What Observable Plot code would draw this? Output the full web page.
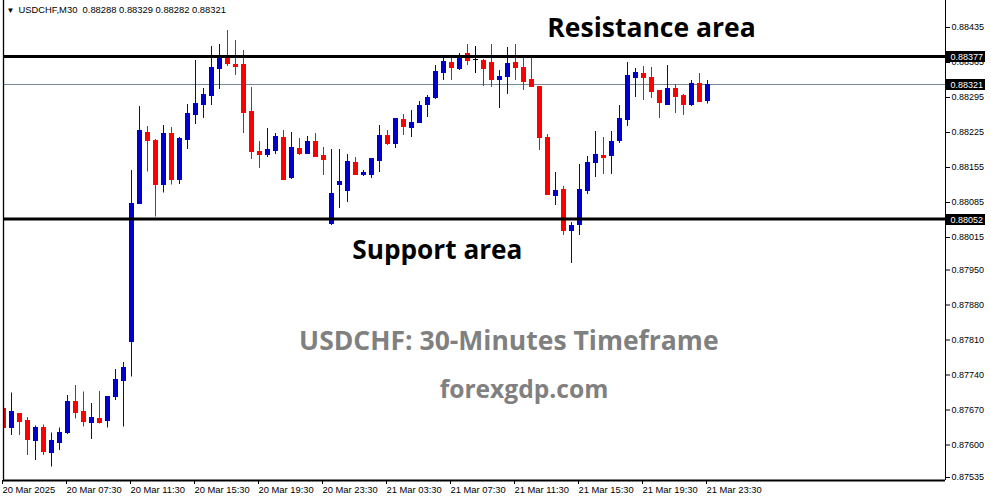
<!DOCTYPE html>
<html>
<head>
<meta charset="utf-8">
<script src="https://cdn.jsdelivr.net/npm/d3@7"></script>
<script src="https://cdn.jsdelivr.net/npm/@observablehq/plot@0.6"></script>
<style>
  html, body { margin: 0; padding: 0; background: #fff; }
  #chart { width: 991px; height: 501px; }
</style>
</head>
<body>
<div id="chart"></div>
<script>
// ---------- data ----------
const symbol = "USDCHF";
const timeframe = "M30";
const firstBar = "2025-03-20T03:30:00Z";
const barMinutes = 30;

const opens = [
  0.87672, 0.87634, 0.87662, 0.87649, 0.87609, 0.87634, 0.87584, 0.87604, 0.87624, 0.87687,
  0.87667, 0.87644, 0.87653, 0.87648, 0.87696, 0.87729, 0.87806, 0.88082, 0.88225, 0.88209,
  0.88121, 0.88223, 0.88131, 0.88211, 0.88261, 0.88281, 0.88299, 0.88353, 0.88377, 0.88361,
  0.88361, 0.88267, 0.88187, 0.88181, 0.88189, 0.88215, 0.88135, 0.88193, 0.88183, 0.88207,
  0.88179, 0.88043, 0.88121, 0.88109, 0.88165, 0.88141, 0.88141, 0.88169, 0.88219, 0.88203,
  0.88251, 0.88235, 0.88245, 0.88281, 0.88295, 0.88344, 0.88365, 0.88353, 0.88383, 0.88370,
  0.88369, 0.88365, 0.88331, 0.88337, 0.88365, 0.88355, 0.88331, 0.88317, 0.88215, 0.88099,
  0.88111, 0.88029, 0.88041, 0.88109, 0.88165, 0.88179, 0.88179, 0.88209, 0.88251, 0.88335,
  0.88343, 0.88335, 0.88309, 0.88281, 0.88313, 0.88299, 0.88281, 0.88323, 0.88288
];
const highs = [
  0.87679, 0.87704, 0.87662, 0.87655, 0.87638, 0.87640, 0.87624, 0.87634, 0.87699, 0.87719,
  0.87706, 0.87683, 0.87707, 0.87697, 0.87751, 0.87765, 0.88149, 0.88277, 0.88237, 0.88211,
  0.88239, 0.88235, 0.88215, 0.88281, 0.88369, 0.88313, 0.88397, 0.88401, 0.88429, 0.88409,
  0.88389, 0.88315, 0.88207, 0.88233, 0.88223, 0.88229, 0.88225, 0.88213, 0.88217, 0.88223,
  0.88195, 0.88191, 0.88191, 0.88181, 0.88175, 0.88149, 0.88173, 0.88239, 0.88229, 0.88253,
  0.88261, 0.88269, 0.88287, 0.88299, 0.88359, 0.88377, 0.88377, 0.88383, 0.88401, 0.88397,
  0.88371, 0.88401, 0.88349, 0.88395, 0.88401, 0.88373, 0.88377, 0.88317, 0.88221, 0.88145,
  0.88117, 0.88045, 0.88161, 0.88177, 0.88227, 0.88215, 0.88227, 0.88279, 0.88365, 0.88353,
  0.88357, 0.88355, 0.88309, 0.88359, 0.88321, 0.88301, 0.88329, 0.88343, 0.88329
];
const lows = [
  0.87610, 0.87619, 0.87619, 0.87579, 0.87569, 0.87579, 0.87556, 0.87589, 0.87621, 0.87652,
  0.87636, 0.87611, 0.87642, 0.87634, 0.87689, 0.87636, 0.87736, 0.88082, 0.88146, 0.88056,
  0.88104, 0.88120, 0.88121, 0.88191, 0.88241, 0.88253, 0.88279, 0.88311, 0.88357, 0.88339,
  0.88223, 0.88171, 0.88153, 0.88175, 0.88181, 0.88131, 0.88131, 0.88179, 0.88183, 0.88177,
  0.88139, 0.88039, 0.88073, 0.88085, 0.88141, 0.88137, 0.88133, 0.88145, 0.88199, 0.88193,
  0.88219, 0.88215, 0.88245, 0.88255, 0.88291, 0.88329, 0.88329, 0.88349, 0.88359, 0.88343,
  0.88317, 0.88315, 0.88273, 0.88301, 0.88329, 0.88309, 0.88317, 0.88189, 0.88101, 0.88079,
  0.88019, 0.87963, 0.88019, 0.88101, 0.88135, 0.88141, 0.88141, 0.88203, 0.88237, 0.88295,
  0.88289, 0.88293, 0.88253, 0.88281, 0.88263, 0.88259, 0.88277, 0.88287, 0.88282
];
const closes = [
  0.87634, 0.87667, 0.87646, 0.87611, 0.87634, 0.87586, 0.87608, 0.87625, 0.87687, 0.87664,
  0.87646, 0.87655, 0.87644, 0.87697, 0.87731, 0.87755, 0.88082, 0.88229, 0.88208, 0.88121,
  0.88223, 0.88131, 0.88213, 0.88263, 0.88283, 0.88301, 0.88355, 0.88377, 0.88363, 0.88357,
  0.88265, 0.88187, 0.88181, 0.88191, 0.88217, 0.88131, 0.88195, 0.88183, 0.88207, 0.88177,
  0.88171, 0.88103, 0.88127, 0.88167, 0.88141, 0.88145, 0.88173, 0.88219, 0.88203, 0.88253,
  0.88237, 0.88245, 0.88279, 0.88295, 0.88347, 0.88367, 0.88355, 0.88377, 0.88369, 0.88370,
  0.88353, 0.88331, 0.88337, 0.88363, 0.88355, 0.88327, 0.88317, 0.88215, 0.88101, 0.88109,
  0.88029, 0.88039, 0.88111, 0.88165, 0.88181, 0.88175, 0.88207, 0.88253, 0.88339, 0.88345,
  0.88335, 0.88307, 0.88285, 0.88313, 0.88297, 0.88281, 0.88323, 0.88287, 0.88321
];

const tickTimes = [
  "2025-03-20T03:30:00Z", "2025-03-20T07:30:00Z", "2025-03-20T11:30:00Z", "2025-03-20T15:30:00Z",
  "2025-03-20T19:30:00Z", "2025-03-20T23:30:00Z", "2025-03-21T03:30:00Z", "2025-03-21T07:30:00Z",
  "2025-03-21T11:30:00Z", "2025-03-21T15:30:00Z", "2025-03-21T19:30:00Z", "2025-03-21T23:30:00Z"
];
const tickLabels = [
  "20 Mar 2025", "20 Mar 07:30", "20 Mar 11:30", "20 Mar 15:30",
  "20 Mar 19:30", "20 Mar 23:30", "21 Mar 03:30", "21 Mar 07:30",
  "21 Mar 11:30", "21 Mar 15:30", "21 Mar 19:30", "21 Mar 23:30"
];
const priceTicks = [
  0.88435, 0.88365, 0.88295, 0.88225, 0.88155, 0.88085, 0.88015,
  0.87950, 0.87880, 0.87810, 0.87740, 0.87670, 0.87600, 0.87535
];
const priceRange = [0.87529, 0.88489];
const timeRangeEnd = "2025-03-22T14:22:30Z";

const resistance = 0.88377;
const support = 0.88052;

const annotationLabels = ["Resistance area", "Support area", "USDCHF: 30-Minutes Timeframe", "forexgdp.com"];
const annotationTimes = ["2025-03-21T20:00:00Z", "2025-03-21T06:37:00Z", "2025-03-21T11:05:00Z", "2025-03-21T12:02:00Z"];
const annotationPrices = [0.88433, 0.87989, 0.87807, 0.87709];
const annotationColors = ["#000000", "#000000", "#808080", "#808080"];
const annotationSizes = [26.5, 26.2, 26.5, 24.6];

// ---------- build ----------
const t0 = new Date(firstBar).getTime();
const barMs = barMinutes * 60 * 1000;
const halfBody = barMs * (2.5 / 8);
const candles = opens.map((o, i) => ({
  time: new Date(t0 + i * barMs),
  open: o, high: highs[i], low: lows[i], close: closes[i]
}));
const candleColor = d => d.close > d.open ? "#0000cd" : d.close < d.open ? "#ff0000" : "#000000";
const last = candles[candles.length - 1];
const fmt = v => v.toFixed(5);
const titleText = `${symbol},${timeframe}\u00a0\u00a0${fmt(last.open)} ${fmt(last.high)} ${fmt(last.low)} ${fmt(last.close)}`;

const xDomain = [new Date(t0), new Date(timeRangeEnd)];
const annotations = annotationLabels.map((label, i) => ({
  label, time: new Date(annotationTimes[i]), price: annotationPrices[i],
  color: annotationColors[i], size: annotationSizes[i]
}));

const plot = Plot.plot({
  width: 991,
  height: 501,
  marginLeft: 3,
  marginRight: 46,
  marginTop: 0,
  marginBottom: 21,
  style: { fontFamily: "'Liberation Sans', Arial, sans-serif", fontSize: "9px", color: "#000", background: "#fff", overflow: "visible" },
  x: { type: "utc", domain: xDomain },
  y: { domain: priceRange },
  marks: [
    Plot.ruleY([last.close], { stroke: "#778899", strokeWidth: 1 }),
    Plot.ruleX(candles, { x: "time", y1: "low", y2: "high", stroke: candleColor, strokeWidth: 1, clip: true }),
    Plot.rect(candles, {
      x1: d => new Date(d.time.getTime() - halfBody),
      x2: d => new Date(d.time.getTime() + halfBody),
      y1: "open", y2: "close",
      fill: candleColor,
      insetTop: -0.5, insetBottom: -0.5,
      shapeRendering: "crispEdges",
      clip: true
    }),
    Plot.ruleY([resistance, support], { stroke: "#000", strokeWidth: 3 }),
    Plot.ruleX([xDomain[0]], { stroke: "#000", strokeWidth: 1.3 }),
    Plot.ruleX([xDomain[1]], { stroke: "#000", strokeWidth: 1 }),
    Plot.ruleY([priceRange[0]], { stroke: "#000", strokeWidth: 2 }),
    Plot.axisX({
      ticks: tickTimes.map(t => new Date(t)),
      tickFormat: (d, i) => tickLabels[i],
      textAnchor: "start",
      tickSize: 4,
      tickPadding: 2,
      dx: -1,
      fontSize: 9.4,
      fill: "#000",
      stroke: "#000"
    }),
    Plot.axisY({
      anchor: "right",
      ticks: priceTicks,
      tickFormat: fmt,
      tickSize: 4,
      tickPadding: 2,
      fill: "#000",
      stroke: "#000"
    }),
    Plot.text(["\u25BC"], { frameAnchor: "top-left", dx: 3, dy: 7, lineAnchor: "top", textAnchor: "start", fontSize: 8, fill: "#000", text: d => d }),
    Plot.text([titleText], { frameAnchor: "top-left", dx: 15, dy: 6, lineAnchor: "top", textAnchor: "start", fontSize: 9.4, fill: "#000", text: d => d }),
    Plot.text(annotations, {
      x: "time", y: "price", text: "label",
      fill: d => d.color,
      fontSize: d => d.size,
      fontFamily: "'Open Sans', 'Noto Sans', sans-serif",
      fontWeight: "bold",
      textAnchor: "middle",
      lineAnchor: "middle"
    })
  ]
});

document.getElementById("chart").appendChild(plot);

// price labels with black background on the right axis
const yScale = plot.scale("y");
const svg = d3.select(plot);
const g = svg.append("g").attr("text-anchor", "start");
[resistance, last.close, support].forEach(p => {
  const py = Math.round(yScale.apply(p));
  g.append("rect")
    .attr("x", 946).attr("y", py - 5)
    .attr("width", 39).attr("height", 11)
    .style("fill", "#000000");
  g.append("text")
    .attr("x", 950.5).attr("y", py + 0.5)
    .attr("dy", "0.35em")
    .attr("text-anchor", "start")
    .style("fill", "#ffffff")
    .attr("font-size", 9)
    .attr("font-family", "'Liberation Sans', Arial, sans-serif")
    .text(fmt(p));
});
</script>
</body>
</html>
